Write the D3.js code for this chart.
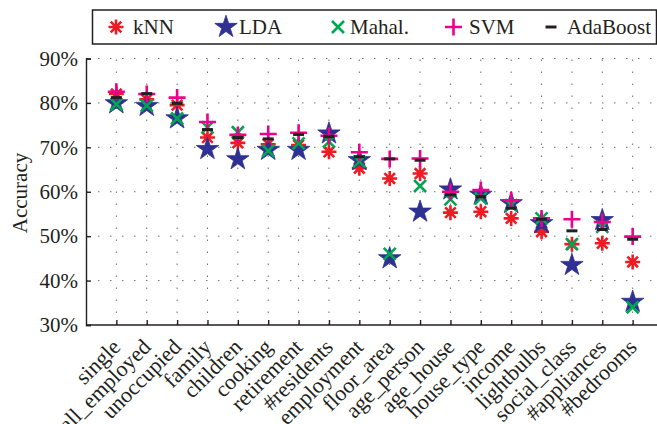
<!DOCTYPE html>
<html>
<head>
<meta charset="utf-8">
<script src="https://cdn.jsdelivr.net/npm/d3@7"></script>
<style>
  body { margin: 0; background: #fff; }
  text { font-family: "Liberation Serif", "Times New Roman", serif; fill: #231f20; }
</style>
</head>
<body>
<div id="chart"></div>
<script>
var features = ["single", "all_employed", "unoccupied", "family", "children", "cooking",
  "retirement", "#residents", "employment", "floor_area", "age_person", "age_house",
  "house_type", "income", "lightbulbs", "social_class", "#appliances", "#bedrooms"];

var knn      = [82.0, 80.8, 79.5, 72.2, 71.0, 70.7, 70.5, 69.0, 65.3, 63.0, 64.1, 55.3, 55.5, 54.0, 51.0, 48.2, 48.4, 44.2];
var lda      = [79.9, 79.3, 76.5, 69.6, 67.3, 69.4, 69.4, 73.1, 67.1, 45.0, 55.5, 60.5, 59.3, 57.4, 52.9, 43.5, 53.6, 35.2];
var mahal    = [79.7, 79.4, 76.5, 74.5, 73.4, 69.2, 70.9, 71.3, 66.8, 46.0, 61.3, 58.3, 58.5, 57.0, 54.0, 48.2, 52.1, 34.0];
var svm      = [82.5, 82.0, 81.2, 75.7, 72.8, 73.0, 73.3, 72.6, 68.9, 67.4, 67.5, 60.0, 60.4, 58.1, 54.0, 53.8, 53.2, 49.9];
var adaboost = [81.2, 82.1, 79.9, 74.0, 72.2, 71.9, 72.9, 72.4, 67.9, 67.4, 67.1, 59.3, 58.9, 56.3, 53.8, 51.2, 51.5, 49.3];

var yTicks = [30, 40, 50, 60, 70, 80, 90];

var series = [
  { name: "kNN", values: knn, color: "#ed1c24", shape: "asterisk" },
  { name: "LDA", values: lda, color: "#2e3192", shape: "star" },
  { name: "Mahal.", values: mahal, color: "#00a651", shape: "cross" },
  { name: "SVM", values: svm, color: "#ec008c", shape: "plus" },
  { name: "AdaBoost", values: adaboost, color: "#231f20", shape: "bar" }
];

var svgWidth = 657;
var svgHeight = 424;
var margin = { top: 58.5, right: 0, bottom: 99, left: 86 };
var height = svgHeight - margin.top - margin.bottom;
var step = 30.37;

var svg = d3.select("#chart")
  .append("svg")
  .attr("width", svgWidth)
  .attr("height", svgHeight);

var x = d3.scalePoint()
  .domain(features)
  .range([margin.left + step, margin.left + step * features.length]);

var y = d3.scaleLinear()
  .domain([30, 90])
  .range([margin.top + height, margin.top]);

var xEnd = margin.left + step * (features.length + 1);

// dotted grid
var grid = svg.append("g").attr("stroke", "#6d6e71").attr("stroke-width", 1)
  .attr("stroke-dasharray", "1.5,10.5");
grid.selectAll("line.h")
  .data(yTicks.slice(1))
  .enter().append("line")
  .attr("x1", margin.left).attr("x2", xEnd)
  .attr("y1", d => y(d)).attr("y2", d => y(d));
grid.selectAll("line.v")
  .data(features)
  .enter().append("line")
  .attr("x1", d => x(d)).attr("x2", d => x(d))
  .attr("y1", y(30)).attr("y2", y(90));

// axes
var leftAxis = d3.axisLeft(y).tickValues(yTicks).tickSize(-5).tickPadding(8)
  .tickFormat(d => d + "%");
var yAxis = svg.append("g")
  .attr("transform", `translate(${margin.left}, 0)`)
  .call(leftAxis);
yAxis.select(".domain").attr("stroke", "#231f20").attr("stroke-width", 1.4);
yAxis.selectAll(".tick line").attr("stroke", "#231f20").attr("stroke-width", 1.4);
yAxis.selectAll(".tick text").attr("font-size", 21).attr("font-family", "Liberation Serif");

var bottomAxis = d3.axisBottom(x).tickSize(-5).tickPadding(0).tickFormat("");
var xAxis = svg.append("g")
  .attr("transform", `translate(0, ${y(30)})`)
  .call(bottomAxis);
xAxis.select(".domain").remove();
xAxis.append("line").attr("x1", margin.left).attr("x2", xEnd)
  .attr("stroke", "#231f20").attr("stroke-width", 1.4);
xAxis.selectAll(".tick line").attr("stroke", "#231f20").attr("stroke-width", 1.4);

svg.append("g").selectAll("text")
  .data(features)
  .enter().append("text")
  .attr("transform", d => `translate(${x(d) - 4}, ${y(30) + 14}) rotate(-45)`)
  .attr("text-anchor", "end")
  .attr("dy", "0.6em")
  .attr("font-size", 22)
  .text(d => d);

svg.append("text")
  .attr("transform", `translate(27, 193) rotate(-90)`)
  .attr("text-anchor", "middle")
  .attr("font-size", 21)
  .text("Accuracy");

// marker shapes
function markerPath(shape) {
  var p = d3.path();
  if (shape === "asterisk") {
    var r = 7.5;
    for (var i = 0; i < 4; i++) {
      var a = i * Math.PI / 4;
      p.moveTo(-r * Math.cos(a), -r * Math.sin(a));
      p.lineTo(r * Math.cos(a), r * Math.sin(a));
    }
  } else if (shape === "star") {
    var ro = 11.8, ri = ro * 0.382;
    for (var k = 0; k < 10; k++) {
      var rr = k % 2 ? ri : ro;
      var ang = -Math.PI / 2 + k * Math.PI / 5;
      if (k === 0) p.moveTo(rr * Math.cos(ang), rr * Math.sin(ang));
      else p.lineTo(rr * Math.cos(ang), rr * Math.sin(ang));
    }
    p.closePath();
  } else if (shape === "cross") {
    var c = 6;
    p.moveTo(-c, -c); p.lineTo(c, c);
    p.moveTo(-c, c); p.lineTo(c, -c);
  } else if (shape === "plus") {
    var q = 8.5;
    p.moveTo(-q, 0); p.lineTo(q, 0);
    p.moveTo(0, -q); p.lineTo(0, q);
  } else {
    p.moveTo(-5.5, 0); p.lineTo(5.5, 0);
  }
  return p.toString();
}

function styleMarker(sel, s) {
  if (s.shape === "star") {
    sel.attr("fill", s.color).attr("stroke", s.color).attr("stroke-width", 0.8);
  } else {
    sel.attr("fill", "none").attr("stroke", s.color)
      .attr("stroke-width", s.shape === "bar" ? 3 : 2.6);
  }
}

series.forEach(function(s) {
  var g = svg.append("g");
  var marks = g.selectAll("path")
    .data(s.values)
    .enter().append("path")
    .attr("d", markerPath(s.shape))
    .attr("transform", (d, i) => `translate(${x(features[i])}, ${y(d)})`);
  styleMarker(marks, s);
});

// legend
var legend = svg.append("g");
legend.append("rect")
  .attr("x", 92.5).attr("y", 10).attr("width", 564).attr("height", 34)
  .attr("fill", "#fff").attr("stroke", "#231f20").attr("stroke-width", 1.5);
var legendX = [116, 226, 338, 453.5, 551];
var legendTextX = [133, 239, 350, 469, 567];
series.forEach(function(s, i) {
  var item = legend.append("g").attr("transform", `translate(${legendX[i]}, 27)`);
  var m = item.append("path").attr("d", markerPath(s.shape));
  styleMarker(m, s);
  item.append("text")
    .attr("x", legendTextX[i] - legendX[i])
    .attr("dy", "0.35em")
    .attr("font-size", 21)
    .text(s.name);
});
</script>
</body>
</html>
